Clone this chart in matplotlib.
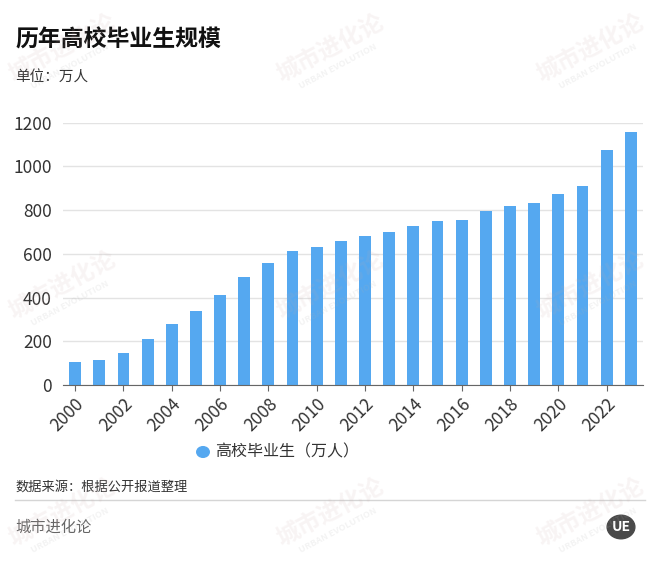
import matplotlib.pyplot as plt
from matplotlib.patches import Circle

plt.rcParams['font.family'] = ['Noto Sans CJK SC', 'DejaVu Sans']

# 历年高校毕业生 (万人)
years = list(range(2000, 2024))
graduates = [107, 115, 145, 212, 280, 338, 413, 495, 559, 611, 631, 660,
             680, 699, 727, 749, 756, 795, 820, 834, 874, 909, 1076, 1158]
yticks = [0, 200, 400, 600, 800, 1000, 1200]

bar_color = '#55A8F0'

fig = plt.figure(figsize=(6.6, 5.61), dpi=100)
ax = fig.add_axes([0.0955, 0.3137, 0.8785, 0.4676])

x = list(range(len(years)))
ax.bar(x, graduates, width=0.49, color=bar_color, zorder=2)

ax.set_xlim(-0.5, len(years) - 0.5)
ax.set_ylim(0, 1200)
ax.set_yticks(yticks)
ax.set_yticklabels([str(v) for v in yticks])
ax.grid(axis='y', color='#e3e3e3', linewidth=1, zorder=0)
ax.tick_params(axis='y', length=0, labelsize=12.5, labelcolor='#333333', pad=8)

ax.set_xticks(x[::2])
ax.set_xticklabels([str(y) for y in years[::2]], rotation=45, ha='right',
                   rotation_mode='anchor')
ax.tick_params(axis='x', length=4, color='#666666', labelsize=12.5,
               labelcolor='#333333', pad=3)

for s in ['top', 'right', 'left']:
    ax.spines[s].set_visible(False)
ax.spines['bottom'].set_color('#666666')

# titles
fig.text(15 / 660, 1 - 40 / 561, '历年高校毕业生规模', fontsize=16.5,
         fontweight='bold', color='#111111', va='center')
fig.text(15 / 660, 1 - 78 / 561, '单位：万人', fontsize=10.5,
         color='#333333', va='center')

# legend
fig.patches.append(Circle((203 / 660, 1 - 452 / 561), 0.0095,
                          transform=fig.transFigure, color=bar_color,
                          figure=fig))
fig.text(215 / 660, 1 - 452 / 561, '高校毕业生（万人）', fontsize=11.5,
         color='#333333', va='center')

# footer
fig.text(15 / 660, 1 - 487 / 561, '数据来源：根据公开报道整理', fontsize=9.5,
         color='#333333', va='center')
fig.add_artist(plt.Line2D([15 / 660, 645 / 660], [1 - 500 / 561, 1 - 500 / 561],
                          transform=fig.transFigure, color='#d5d5d5', lw=1))
fig.text(15 / 660, 1 - 527 / 561, '城市进化论', fontsize=11,
         color='#666666', va='center')

# logo
fig.patches.append(Circle((621 / 660, 1 - 527 / 561), 0.021,
                          transform=fig.transFigure, color='#4a4a4a',
                          figure=fig))
fig.text(621 / 660, 1 - 527 / 561, 'UE', fontsize=10, fontweight='bold',
         color='white', ha='center', va='center')

# watermarks
for wx in [62, 330, 590]:
    for wy in [48, 285, 512]:
        fig.text(wx / 660, 1 - wy / 561, '城市进化论', fontsize=17,
                 fontweight='bold', color='#c9a9a9', alpha=0.12,
                 rotation=28, ha='center', va='center')
        fig.text((wx + 8) / 660, 1 - (wy + 18) / 561, 'URBAN EVOLUTION',
                 fontsize=6.5, fontweight='bold', color='#b0b0b0', alpha=0.15,
                 rotation=28, ha='center', va='center')

fig.savefig('out.png', dpi=100)
